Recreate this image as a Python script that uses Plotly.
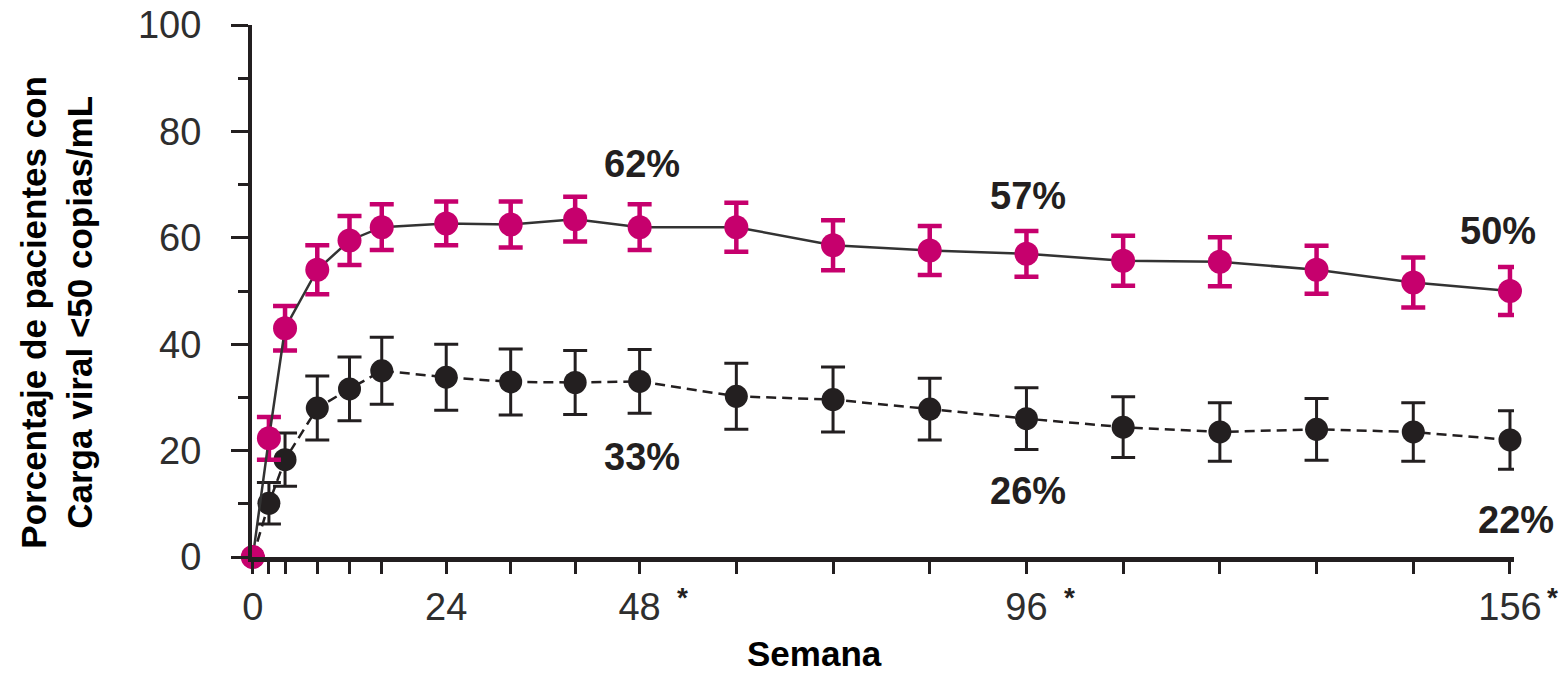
import plotly.graph_objects as go

# Study weeks at which viral load was assessed
weeks = [0, 2, 4, 8, 12, 16, 24, 32, 40, 48, 60, 72, 84, 96, 108, 120, 132, 144, 156]

# Percentage of patients with viral load <50 copies/mL, per treatment arm
arm_a = [0, 22.3, 43, 54, 59.5, 62, 62.7, 62.5, 63.5, 62, 62, 58.6, 57.6, 57, 55.7, 55.5, 54, 51.6, 50]
arm_a_err = [0, 4, 4.2, 4.6, 4.6, 4.3, 4.1, 4.3, 4.2, 4.3, 4.6, 4.7, 4.6, 4.3, 4.7, 4.6, 4.5, 4.7, 4.5]

arm_b = [0, 10.1, 18.3, 28, 31.6, 35, 33.8, 32.9, 32.8, 33, 30.2, 29.6, 27.8, 26, 24.4, 23.5, 24, 23.5, 22]
arm_b_err = [0, 3.9, 5, 6, 6, 6.3, 6.2, 6.2, 6, 6, 6.2, 6.1, 5.8, 5.8, 5.7, 5.5, 5.8, 5.5, 5.5]

# Labelled x ticks and the weeks marked with an asterisk
tick_labels = {0: "0", 24: "24", 48: "48", 96: "96", 156: "156"}
starred_weeks = [48, 96, 156]

# Weeks whose percentage is written next to the curves
labelled_weeks = [48, 96, 156]

MAGENTA = "#C6006D"
DARK = "#231F20"
FONT = "Liberation Sans, Arial, sans-serif"

fig = go.Figure()

fig.add_trace(go.Scatter(
    x=weeks, y=arm_b, mode="lines+markers", cliponaxis=False,
    line=dict(color=DARK, width=2.5, dash="10px,6px"),
    marker=dict(color=DARK, size=23),
    error_y=dict(type="data", array=arm_b_err, visible=True,
                 color=DARK, thickness=3, width=12),
    showlegend=False,
))

fig.add_trace(go.Scatter(
    x=weeks, y=arm_a, mode="lines+markers", cliponaxis=False,
    line=dict(color="#333333", width=2.5),
    marker=dict(color=MAGENTA, size=24),
    error_y=dict(type="data", array=arm_a_err, visible=True,
                 color=MAGENTA, thickness=4.5, width=12),
    showlegend=False,
))

annotations = []

# Percentages above the upper curve and below the lower curve
a_shift = {48: (2, 63), 96: (2, 58), 156: (-12, 60)}
b_shift = {48: (2, -76), 96: (2, -72), 156: (6, -80)}
for w in labelled_weeks:
    i = weeks.index(w)
    for vals, shifts in ((arm_a, a_shift), (arm_b, b_shift)):
        dx, dy = shifts[w]
        annotations.append(dict(
            x=w, y=vals[i], xref="x", yref="y", text=f"{vals[i]:g}%",
            showarrow=False, xshift=dx, yshift=dy,
            font=dict(family=FONT, size=38, color=DARK, weight="bold"),
        ))

# Asterisks next to selected week labels
for w in starred_weeks:
    annotations.append(dict(
        x=w, y=0, xref="x", yref="paper", text="*", showarrow=False,
        xshift=43, yshift=-40, xanchor="center", yanchor="middle",
        font=dict(family=FONT, size=28, color=DARK, weight="bold"),
    ))

annotations.append(dict(
    x=0.446, y=-0.182, xref="paper", yref="paper", text="Semana",
    showarrow=False, xanchor="center", yanchor="middle",
    font=dict(family=FONT, size=35, color="#000000", weight="bold"),
))
annotations.append(dict(
    x=-0.155, y=0.46, xref="paper", yref="paper", textangle=-90,
    text="Porcentaje de pacientes con<br>Carga viral <50 copias/mL",
    showarrow=False, xanchor="center", yanchor="middle",
    font=dict(family=FONT, size=35, color="#000000", weight="bold"),
))

fig.update_layout(
    width=1560, height=674,
    margin=dict(l=252, r=46, t=25, b=117),
    paper_bgcolor="white", plot_bgcolor="white",
    annotations=annotations,
    xaxis=dict(
        range=[-0.1, 156.5], showgrid=False, zeroline=False,
        automargin=False,
        showline=True, linecolor=DARK, linewidth=5,
        ticks="outside", ticklen=12, tickwidth=3, tickcolor=DARK,
        tickvals=weeks, ticktext=[tick_labels.get(w, "") for w in weeks],
        tickfont=dict(family=FONT, size=38, color="#2E2E2E"),
        ticklabelstandoff=0,
    ),
    yaxis=dict(
        range=[0, 100], showgrid=False, zeroline=False,
        automargin=False,
        showline=True, linecolor=DARK, linewidth=4,
        ticks="outside", ticklen=17, tickwidth=3, tickcolor=DARK,
        tickvals=[0, 20, 40, 60, 80, 100],
        tickfont=dict(family=FONT, size=38, color="#2E2E2E"),
        ticklabelstandoff=22,
        minor=dict(tickvals=[10, 30, 50, 70, 90], ticks="outside",
                   ticklen=10, tickwidth=3, tickcolor=DARK),
    ),
)

fig.write_html("out.html")
